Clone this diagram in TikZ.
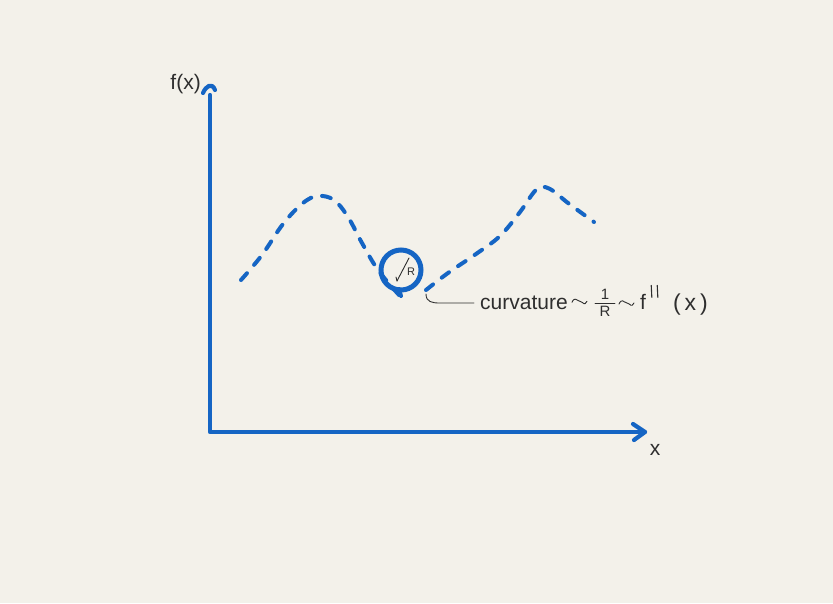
\documentclass[tikz,border=0pt]{standalone}
\usepackage{fontspec}
\setmainfont{Liberation Sans}
\begin{document}
\begin{tikzpicture}[x=1pt,y=-1pt,
  ink/.style={draw=penblue,line width=4.2pt,line cap=round,line join=round},
  curvedash/.style={draw=penblue,line width=4pt,line cap=round,dash pattern=on 9pt off 11pt},
  pencil/.style={text=pencilgray,font=\fontsize{21}{23}\selectfont,inner sep=1pt},
  thin/.style={draw=pencilgray,line width=0.9pt,line cap=round}]
\definecolor{penblue}{HTML}{1565C4}
\definecolor{pencilgray}{HTML}{2E2E2E}
\definecolor{paper}{HTML}{F3F1EA}
\fill[paper] (0,0) rectangle (833,603);
\useasboundingbox (0,0) rectangle (833,603);
% axes
\coordinate (O) at (210,432);
\coordinate (ytop) at (210,95);
\coordinate (xend) at (645,432);
\draw[ink] (ytop) -- (O) -- (xend);
\draw[ink] (203,93) .. controls (206,86) and (212,82) .. (215,90);
\draw[ink] (633,424) -- (xend) -- (634,440);
\node[pencil,anchor=east] (fx) at (202,84) {f(x)};
\node[pencil] (xl) at (655,450) {x};
% curve
\draw[curvedash] plot[smooth,tension=0.6] coordinates {(241,280) (262,255) (283,224) (303,203) (318,196) (334,200) (348,217) (362,243) (378,270) (399,295)};
\draw[curvedash] plot[smooth,tension=0.6] coordinates {(426,290) (448,273) (476,254) (500,236) (520,212) (537,189) (550,189) (568,203) (594,222)};
% osculating circle
\node[circle,draw=penblue,line width=5pt,minimum size=40pt,inner sep=0pt] (circ) at (401,270) {};
\draw[ink,line width=4pt] (399,289) -- (401,296);
\draw[thin] (397,281) -- (409,258);
\draw[thin] (397,281) -- (396,277);
\node[text=pencilgray,font=\fontsize{11}{12}\selectfont] (Rl) at (411,272) {R};
% annotation
\draw[thin] (426,294) .. controls (426,302) and (432,303) .. (440,303) -- (474,303);
\node[pencil,anchor=base west] (cv) at (479,309) {curvature};
\draw[thin] (cv.east) ++(3,0) coordinate (t1s) .. controls +(3,-6) and +(-4,-1) .. ++(8,-1) .. controls +(4,1) and +(-3,5) .. ++(7,0);
\coordinate (fl) at (595,303);
\draw[thin] (fl) -- ++(20,0) coordinate (fr);
\node[pencil,font=\fontsize{15}{16}\selectfont,anchor=south] (one) at (605,301) {1};
\node[pencil,font=\fontsize{15}{16}\selectfont,anchor=north] (rr) at (605,305) {R};
\draw[thin] (619,304) .. controls +(3,-6) and +(-4,-1) .. ++(8,-1) .. controls +(4,1) and +(-3,5) .. ++(7,0);
\node[pencil,anchor=base west] (fpp) at (639,309) {f};
\draw[thin,line width=1.1pt] (fpp.east) ++(4,-16) coordinate (p1) -- ++(0.6,12);
\draw[thin,line width=1.1pt] (fpp.east) ++(10,-16) coordinate (p2) -- ++(0.6,12);
\node[pencil,font=\fontsize{23}{25}\selectfont,anchor=base west] (px) at (672,310) {(\,x\,)};
\end{tikzpicture}
\end{document}
